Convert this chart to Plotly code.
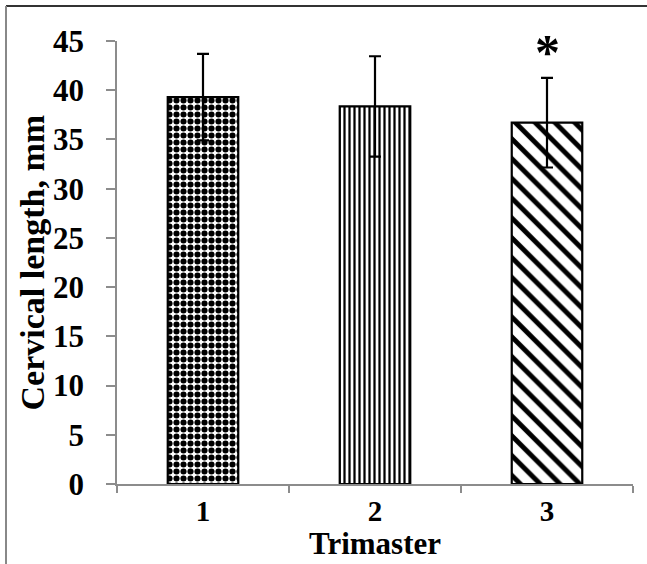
import plotly.graph_objects as go

# Mean cervical length by trimester, with standard deviation
trimesters = ["1", "2", "3"]
mean_length = [39.3, 38.35, 36.7]
sd_length = [4.4, 5.1, 4.55]
patterns = [".", "|", "\\"]
y_ticks = [0, 5, 10, 15, 20, 25, 30, 35, 40, 45]

W, H = 647, 564
ML, MR, MT, MB = 117, 14, 41, 80
PW, PH = W - ML - MR, H - MT - MB
FONT = "Liberation Serif, Times New Roman, serif"


def px_x(p):
    return (p - ML) / PW


def px_y(p):
    return (H - MB - p) / PH


fig = go.Figure()
fig.add_trace(go.Bar(
    x=trimesters,
    y=mean_length,
    width=0.41,
    marker=dict(
        color="white",
        line=dict(color="black", width=2.2),
        pattern=dict(
            shape=patterns,
            fgcolor="black",
            fgopacity=1,
            bgcolor="white",
            size=[7, 5, 14],
            solidity=[0.6, 0.45, 0.35],
            fillmode="replace",
        ),
    ),
    error_y=dict(type="data", array=sd_length, visible=True,
                 color="black", thickness=2.2, width=6),
    showlegend=False,
))

# significance marker above the third bar (category index 2)
fig.add_annotation(x=2, y=mean_length[2] + sd_length[2], yshift=26,
                   text="<b>*</b>", showarrow=False,
                   font=dict(family=FONT, size=50, color="black"))

# axis titles
fig.add_annotation(xref="paper", yref="paper", x=0.5, y=px_y(543),
                   text="<b>Trimaster</b>", showarrow=False,
                   xanchor="center", yanchor="middle",
                   font=dict(family=FONT, size=31, color="black"))
fig.add_annotation(xref="paper", yref="paper", x=px_x(32), y=0.5,
                   text="<b>Cervical length, mm</b>", showarrow=False,
                   textangle=-90, xanchor="center", yanchor="middle",
                   font=dict(family=FONT, size=34, color="black"))

# frame around the figure (runs off the right and bottom edges)
fig.add_shape(type="line", xref="paper", yref="paper",
              x0=px_x(6), x1=px_x(660), y0=px_y(6), y1=px_y(6),
              line=dict(color="#333333", width=2))
fig.add_shape(type="line", xref="paper", yref="paper",
              x0=px_x(6), x1=px_x(6), y0=px_y(6), y1=px_y(580),
              line=dict(color="#888888", width=2))

fig.update_layout(
    width=W, height=H,
    margin=dict(l=ML, r=MR, t=MT, b=MB, autoexpand=False),
    plot_bgcolor="white", paper_bgcolor="white",
    font=dict(family=FONT, color="black"),
    xaxis=dict(
        type="category", tickson="boundaries",
        range=[-0.5, 2.5],
        showline=True, linecolor="#8c8c8c", linewidth=1.5,
        ticks="outside", ticklen=7, tickcolor="#8c8c8c", tickwidth=1.5,
        tickfont=dict(size=29, family=FONT, weight="bold"),
        ticklabelstandoff=0,
        showgrid=False, zeroline=False,
    ),
    yaxis=dict(
        range=[0, 45], tickvals=y_ticks,
        showline=True, linecolor="#8c8c8c", linewidth=1.5,
        ticks="outside", ticklen=9, tickcolor="#8c8c8c", tickwidth=1.5,
        tickfont=dict(size=31, family=FONT, weight="bold"),
        ticklabelstandoff=16,
        showgrid=False, zeroline=False,
    ),
)

fig.write_html("out.html")
